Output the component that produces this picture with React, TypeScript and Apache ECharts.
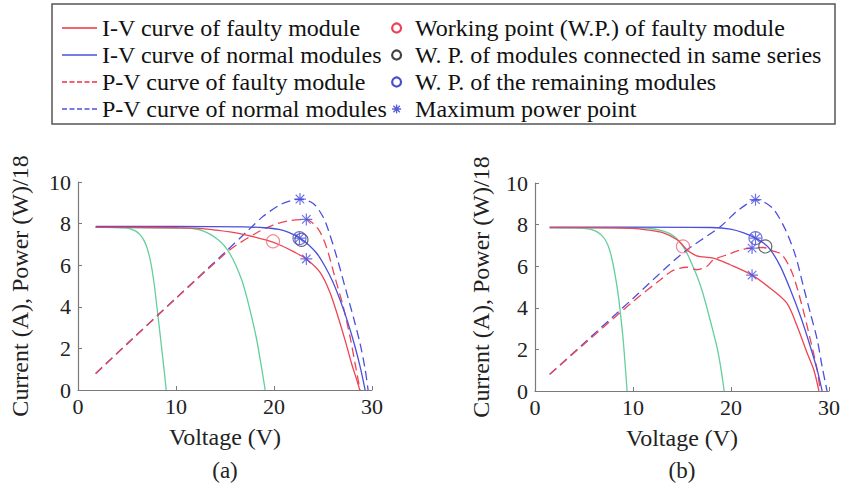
import React, { useEffect, useRef } from 'react';
import * as echarts from 'echarts';

const FONT = '"Liberation Serif", "Times New Roman", serif';
const RED = '#ee4453';
const BLUE = '#4b50dc';
const GREEN = '#62cf9c';
const CIRCLE_BLACK = '#444444';
const AXIS_GREY = '#7a7a7a';

// ---- series names (legend) ----
const NAME_IV_FAULTY = 'I-V curve of faulty module';
const NAME_IV_NORMAL = 'I-V curve of normal modules';
const NAME_PV_FAULTY = 'P-V curve of faulty module';
const NAME_PV_NORMAL = 'P-V curve of normal modules';
const NAME_WP_FAULTY = 'Working point (W.P.) of faulty module';
const NAME_WP_SERIES = 'W. P. of modules connected in same series';
const NAME_WP_REMAIN = 'W. P. of the remaining modules';
const NAME_MPP = 'Maximum power point';
const NAME_SINGLE = 'I-V curve of one module';
const NAME_DOUBLE = 'I-V curve of two modules';

// ---- axis ticks ----
const X_MIN = 0, X_MAX = 30, X_STEP = 10;
const Y_MIN = 0, Y_MAX = 10, Y_STEP = 2;

// ---- panel (a) : [voltage V, current A or power W/18] ----
const green1A = [[1.8,7.82],[3,7.82],[4,7.81],[4.8,7.79],[5.4,7.74],[5.9,7.64],[6.3,7.48],[6.7,7.22],[7.0,6.9],[7.3,6.4],[7.55,5.8],[7.8,5.0],[8.05,4.0],[8.3,3.0],[8.55,1.95],[8.8,0.9],[9.0,0]];
const green2A = [[1.8,7.82],[11,7.78],[12,7.74],[12.8,7.64],[13.6,7.46],[14.3,7.22],[14.9,6.95],[15.5,6.55],[16.1,6.0],[16.7,5.3],[17.2,4.5],[17.7,3.55],[18.2,2.5],[18.65,1.3],[19.1,0]];
const faultyIVA = [[1.8,7.82],[5,7.82],[10,7.8],[12,7.78],[13.8,7.7],[15.5,7.6],[17.2,7.45],[19.25,7.2],[20.6,6.97],[22,6.65],[23.3,6.3],[24.7,5.65],[25.7,4.7],[26.55,3.5],[27.25,2.4],[27.9,1.3],[28.5,0.4],[28.75,0]];
const normalIVA = [[1.8,7.86],[10,7.86],[17,7.84],[19,7.8],[20.5,7.72],[21.5,7.58],[22.65,7.3],[23.6,6.95],[24.4,6.55],[25.2,5.95],[26.0,5.2],[26.8,4.25],[27.5,3.3],[28.2,2.2],[28.8,1.1],[29.3,0]];
const faultyPVA = [[1.8,0.78],[5,2.2],[10,4.4],[15,6.55],[16.2,6.98],[18.2,7.55],[19.9,7.93],[21.6,8.14],[23.3,8.2],[24.0,8.0],[24.7,7.6],[25.4,6.8],[26.2,5.45],[27.07,4.0],[27.76,2.56],[28.27,1.28],[28.78,0]];
const normalPVA = [[1.8,0.8],[5,2.22],[10,4.42],[15,6.62],[17.2,7.6],[18.9,8.35],[20.6,8.9],[21.7,9.1],[22.65,9.18],[24.0,8.97],[25.0,8.33],[25.5,7.75],[26.4,6.4],[27.24,4.97],[28.1,3.5],[28.78,2.24],[29.3,1.0],[29.6,0]];
const wpFaultyA = [[19.9,7.15]];
const wpSeriesA = [[22.8,7.22]];
const wpRemainA = [[22.6,7.3]];
const mppA = [[22.65,9.18],[23.3,8.2],[23.3,6.3],[22.6,7.3]];

// ---- panel (b) ----
const green1B = [[1.5,7.85],[4,7.84],[5,7.82],[5.7,7.77],[6.3,7.66],[6.8,7.48],[7.25,7.2],[7.6,6.8],[7.9,6.25],[8.2,5.5],[8.5,4.6],[8.75,3.6],[9.0,2.45],[9.2,1.25],[9.4,0]];
const green2B = [[1.5,7.85],[10,7.84],[12,7.8],[13,7.7],[13.7,7.58],[14.4,7.36],[15.0,7.02],[15.5,6.63],[16.0,6.12],[16.55,5.5],[17.1,4.75],[17.6,3.9],[18.1,3.0],[18.6,2.05],[19.0,1.0],[19.3,0]];
const faultyIVB = [[1.5,7.85],[5,7.85],[10,7.82],[11.4,7.75],[13.1,7.6],[14.5,7.27],[15.1,7.0],[15.5,6.79],[16.5,6.5],[18.2,6.39],[19.9,6.07],[22.15,5.57],[24.0,4.94],[25.7,4.22],[26.76,3.1],[27.78,1.81],[28.46,1.0],[28.97,0]];
const normalIVB = [[1.5,7.88],[10,7.88],[18,7.86],[19.94,7.78],[21.3,7.6],[22.5,7.35],[23.35,7.1],[24.03,6.79],[25.05,5.98],[26.07,4.86],[27.1,3.58],[28.1,2.13],[28.8,1.0],[29.3,0]];
const faultyPVB = [[1.5,0.8],[5,2.25],[10,4.3],[12.8,5.35],[14.1,5.8],[15.5,5.95],[16.5,5.83],[17.55,6.0],[18.2,6.3],[19.9,6.6],[21.0,6.79],[22.15,6.87],[23.3,6.9],[24.2,6.75],[25.2,6.55],[26.25,5.67],[27.27,4.06],[28.1,2.46],[28.8,1.0],[29.1,0]];
const normalPVB = [[1.5,0.8],[5,2.3],[10,4.45],[15,6.6],[18.9,7.9],[20.5,8.6],[21.5,8.95],[22.5,9.2],[23.5,9.05],[24.4,8.71],[25.56,7.75],[26.6,6.47],[27.4,5.0],[28.1,3.74],[28.8,2.46],[29.3,1.17],[29.8,0]];
const wpFaultyB = [[15.1,6.95]];
const wpSeriesB = [[23.5,6.95]];
const wpRemainB = [[22.5,7.35]];
const mppB = [[22.5,9.2],[22.15,6.87],[22.15,5.57],[22.5,7.35]];

const PANEL_LABELS = ['(a)', '(b)'];
const X_NAME = 'Voltage (V)';
const Y_NAME = 'Current (A), Power (W)/18';

const STAR = 'path://M0 -1 L0 1 M-1 0 L1 0 M-0.71 -0.71 L0.71 0.71 M-0.71 0.71 L0.71 -0.71';
const ICON_SOLID = 'path://M0 0H35V1.4H0Z';
const ICON_DASHED = 'path://M0 0H5V1.4H0Z M7.5 0H12.5V1.4H7.5Z M15 0H20V1.4H15Z M22.5 0H27.5V1.4H22.5Z M30 0H35V1.4H30Z';

function lineSeries(name: string, data: number[][], color: string, dashed: boolean, g: number) {
  return {
    type: 'line', name, data, xAxisIndex: g, yAxisIndex: g,
    symbol: 'none', showSymbol: false, smooth: 0.3,
    lineStyle: { color, width: 1.3, type: dashed ? [9, 5] : 'solid' },
    itemStyle: { color }, silent: true, z: 2,
  };
}

function markerSeries(name: string, data: number[][], color: string, g: number, star = false) {
  return {
    type: 'scatter', name, data, xAxisIndex: g, yAxisIndex: g,
    symbol: star ? STAR : 'circle', symbolSize: star ? 12 : 13,
    itemStyle: { color: 'transparent', borderColor: color, borderWidth: 1.2 },
    silent: true, z: 4,
  };
}

function axesFor(g: number) {
  const x = {
    type: 'value', gridIndex: g, min: X_MIN, max: X_MAX, interval: X_STEP,
    name: X_NAME, nameLocation: 'middle', nameGap: 35,
    nameTextStyle: { fontFamily: FONT, fontSize: 24, color: '#222' },
    axisLine: { show: true, lineStyle: { color: AXIS_GREY, width: 1.2 } },
    axisTick: { show: true, inside: true, length: 4, lineStyle: { color: AXIS_GREY } },
    axisLabel: { fontFamily: FONT, fontSize: 22, color: '#222', margin: 5 },
    splitLine: { show: false },
  };
  const y = {
    type: 'value', gridIndex: g, min: Y_MIN, max: Y_MAX, interval: Y_STEP,
    name: Y_NAME, nameLocation: 'middle', nameGap: g === 0 ? 46 : 42,
    nameTextStyle: { fontFamily: FONT, fontSize: 24, color: '#222' },
    axisLine: { show: true, lineStyle: { color: AXIS_GREY, width: 1.2 } },
    axisTick: { show: true, inside: true, length: 4, lineStyle: { color: AXIS_GREY } },
    axisLabel: { fontFamily: FONT, fontSize: 22, color: '#222', margin: 7 },
    splitLine: { show: false },
  };
  return { x, y };
}

export default function App() {
  const ref = useRef<HTMLDivElement>(null);
  useEffect(() => {
    if (!ref.current) return;
    const chart = echarts.init(ref.current, null, { renderer: 'svg' });
    const a = axesFor(0);
    const b = axesFor(1);
    const series: any[] = [];
    const panels = [
      { g: 0, g1: green1A, g2: green2A, fiv: faultyIVA, niv: normalIVA, fpv: faultyPVA, npv: normalPVA, wf: wpFaultyA, ws: wpSeriesA, wr: wpRemainA, mpp: mppA },
      { g: 1, g1: green1B, g2: green2B, fiv: faultyIVB, niv: normalIVB, fpv: faultyPVB, npv: normalPVB, wf: wpFaultyB, ws: wpSeriesB, wr: wpRemainB, mpp: mppB },
    ];
    panels.forEach((p) => {
      series.push(lineSeries(NAME_SINGLE, p.g1, GREEN, false, p.g));
      series.push(lineSeries(NAME_DOUBLE, p.g2, GREEN, false, p.g));
      series.push(lineSeries(NAME_PV_NORMAL, p.npv, BLUE, true, p.g));
      series.push(lineSeries(NAME_PV_FAULTY, p.fpv, RED, true, p.g));
      series.push(lineSeries(NAME_IV_NORMAL, p.niv, BLUE, false, p.g));
      series.push(lineSeries(NAME_IV_FAULTY, p.fiv, RED, false, p.g));
      series.push(markerSeries(NAME_WP_FAULTY, p.wf, '#f06a78', p.g));
      series.push(markerSeries(NAME_WP_SERIES, p.ws, CIRCLE_BLACK, p.g));
      series.push(markerSeries(NAME_WP_REMAIN, p.wr, BLUE, p.g));
      series.push(markerSeries(NAME_MPP, p.mpp, BLUE, p.g, true));
    });

    const legendText = { fontFamily: FONT, fontSize: 24, color: '#111' };
    chart.setOption({
      animation: false,
      backgroundColor: '#ffffff',
      grid: [
        { left: 78, top: 182, width: 294, height: 208 },
        { left: 535, top: 183, width: 294, height: 208 },
      ],
      xAxis: [a.x, b.x],
      yAxis: [a.y, b.y],
      legend: [
        {
          orient: 'vertical', left: 62, top: 16, padding: 0, itemGap: 3, itemWidth: 35, itemHeight: 14,
          selectedMode: false, textStyle: legendText,
          data: [
            { name: NAME_IV_FAULTY, icon: ICON_SOLID, itemStyle: { color: '#f0303f', borderWidth: 0 } },
            { name: NAME_IV_NORMAL, icon: ICON_SOLID, itemStyle: { color: '#4850e0', borderWidth: 0 } },
            { name: NAME_PV_FAULTY, icon: ICON_DASHED, itemStyle: { color: '#f0303f', borderWidth: 0 } },
            { name: NAME_PV_NORMAL, icon: ICON_DASHED, itemStyle: { color: '#4850e0', borderWidth: 0 } },
          ],
        },
        {
          orient: 'vertical', left: 391, top: 16, padding: 0, itemGap: 3, itemWidth: 27, itemHeight: 9,
          selectedMode: false, textStyle: legendText,
          data: [
            { name: NAME_WP_FAULTY, icon: 'circle', itemStyle: { color: 'transparent', borderColor: '#e8102a', borderWidth: 2.2 } },
            { name: NAME_WP_SERIES, icon: 'circle', itemStyle: { color: 'transparent', borderColor: '#111111', borderWidth: 2.2 } },
            { name: NAME_WP_REMAIN, icon: 'circle', itemStyle: { color: 'transparent', borderColor: '#1a22c0', borderWidth: 2.2 } },
            { name: NAME_MPP, icon: STAR, itemStyle: { color: 'transparent', borderColor: '#2a35d0', borderWidth: 1.3 } },
          ],
        },
      ],
      graphic: [
        { type: 'rect', shape: { x: 52, y: 4, width: 783, height: 120 }, style: { fill: 'none', stroke: '#555', lineWidth: 1.5 }, z: -1 },
        { type: 'text', x: 225, y: 470, style: { text: PANEL_LABELS[0], font: `23px ${FONT}`, fill: '#222', align: 'center', verticalAlign: 'middle', textAlign: 'center', textVerticalAlign: 'middle' } },
        { type: 'text', x: 682, y: 470, style: { text: PANEL_LABELS[1], font: `23px ${FONT}`, fill: '#222', align: 'center', verticalAlign: 'middle', textAlign: 'center', textVerticalAlign: 'middle' } },
      ],
      series,
    });
    return () => chart.dispose();
  }, []);
  return <div ref={ref} style={{ width: 845, height: 485, position: 'absolute', left: 0, top: 0 }} />;
}
